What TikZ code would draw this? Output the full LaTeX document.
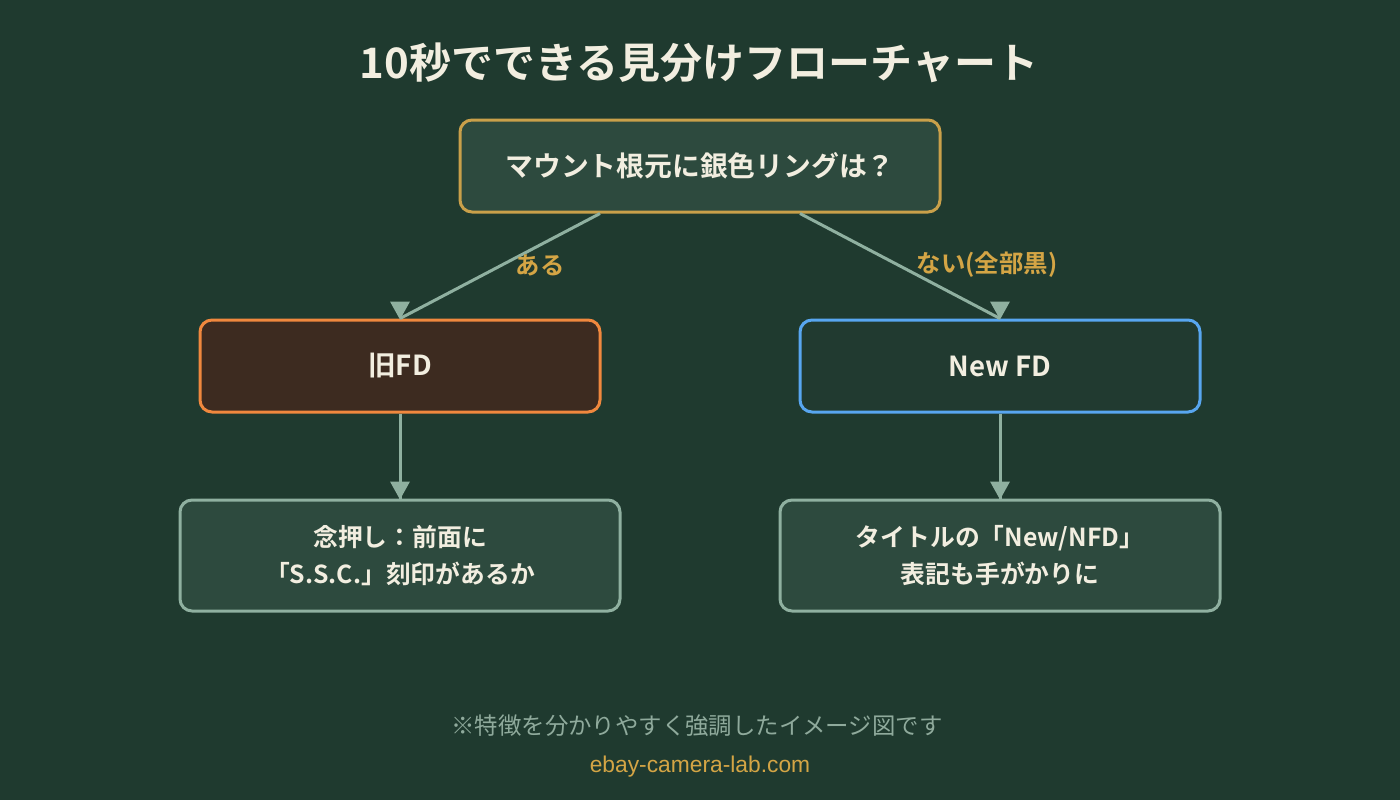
\documentclass[tikz,border=0pt]{standalone}
\usepackage{fontspec}
\setmainfont{Noto Sans CJK JP}
\newfontfamily\jpb{Noto Sans CJK JP}[BoldFont={* Bold}]
\newfontfamily\jpr{Noto Sans CJK JP}
\newfontfamily\latr{Liberation Sans}
\usetikzlibrary{calc}
\definecolor{bg}{HTML}{1F3A2F}
\definecolor{boxfill}{HTML}{2D4A3E}
\definecolor{gold}{HTML}{C9A04A}
\definecolor{goldtxt}{HTML}{D4A545}
\definecolor{cream}{HTML}{F2EEE0}
\definecolor{sage}{HTML}{8FB0A0}
\definecolor{orangeb}{HTML}{F0883E}
\definecolor{brownfill}{HTML}{3D2B20}
\definecolor{blueb}{HTML}{58A6F0}
\definecolor{darkfill}{HTML}{213A30}
\definecolor{foot}{HTML}{8FAA9C}
\tikzset{
  px/.style={x=0.5pt,y=-0.5pt},
  basebox/.style={rectangle, rounded corners=6pt, line width=1.5pt, text=cream, font=\jpb\bfseries, align=center, inner sep=0pt},
  qbox/.style={basebox, draw=gold, fill=boxfill, minimum width=240pt, minimum height=46pt, font=\jpb\bfseries\fontsize{13.9}{16}\selectfont},
  oldbox/.style={basebox, draw=orangeb, fill=brownfill, minimum width=200pt, minimum height=46pt, font=\jpb\bfseries\fontsize{13.8}{16}\selectfont},
  newbox/.style={basebox, draw=blueb, fill=darkfill, minimum width=200pt, minimum height=46pt, font=\jpb\bfseries\fontsize{13.8}{16}\selectfont},
  tipbox/.style={basebox, draw=sage, fill=boxfill, minimum width=220pt, minimum height=55.5pt, font=\jpb\bfseries\fontsize{12.4}{18.5}\selectfont},
  conn/.style={draw=sage, line width=1.5pt},
  head/.style={fill=sage, draw=none},
  lbl/.style={text=goldtxt, font=\jpb\bfseries\fontsize{12.2}{14}\selectfont, inner sep=0pt},
}
\begin{document}
\begin{tikzpicture}[px]
\fill[bg] (0,0) rectangle (1400,800);
\useasboundingbox (0,0) rectangle (1400,800);

\node[text=cream, font=\jpb\bfseries\fontsize{21}{25}\selectfont, inner sep=0pt] (title) at (699,63) {10秒でできる見分けフローチャート};

\node[qbox] (q) at (700,166) {マウント根元に銀色リングは？};
\node[oldbox] (old) at (400,366) {旧FD};
\node[newbox] (new) at (1000,366) {New FD};
\node[tipbox] (tl) at (400,555.5) {念押し：前面に\\「S.S.C.」刻印があるか};
\node[tipbox] (tr) at (1000,555.5) {タイトルの「New/NFD」\\表記も手がかりに};

\coordinate (qa) at ($(q.south)+(-50pt,0)$);
\coordinate (qb) at ($(q.south)+(50pt,0)$);

\draw[conn] (qa) -- (old.north);
\draw[conn] (qb) -- (new.north);
\draw[conn] (old.south) -- (tl.north);
\draw[conn] (new.south) -- (tr.north);

\foreach \n in {old,new,tl,tr}{
  \fill[head] ($(\n.north)+(0,-0.5pt)$) -- ++(-5pt,9pt) -- ++(10pt,0) -- cycle;
}

\node[lbl] (l1) at (540,265) {ある};
\node[lbl] (l2) at (987,265) {ない(全部黒)};

\node[text=foot, font=\jpr\fontsize{11.7}{13}\selectfont, inner sep=0pt] (note) at (697,726) {※特徴を分かりやすく強調したイメージ図です};
\node[text=goldtxt, font=\latr\fontsize{11.4}{13}\selectfont, inner sep=0pt] (site) at (700,767) {ebay-camera-lab.com};
\end{tikzpicture}
\end{document}
